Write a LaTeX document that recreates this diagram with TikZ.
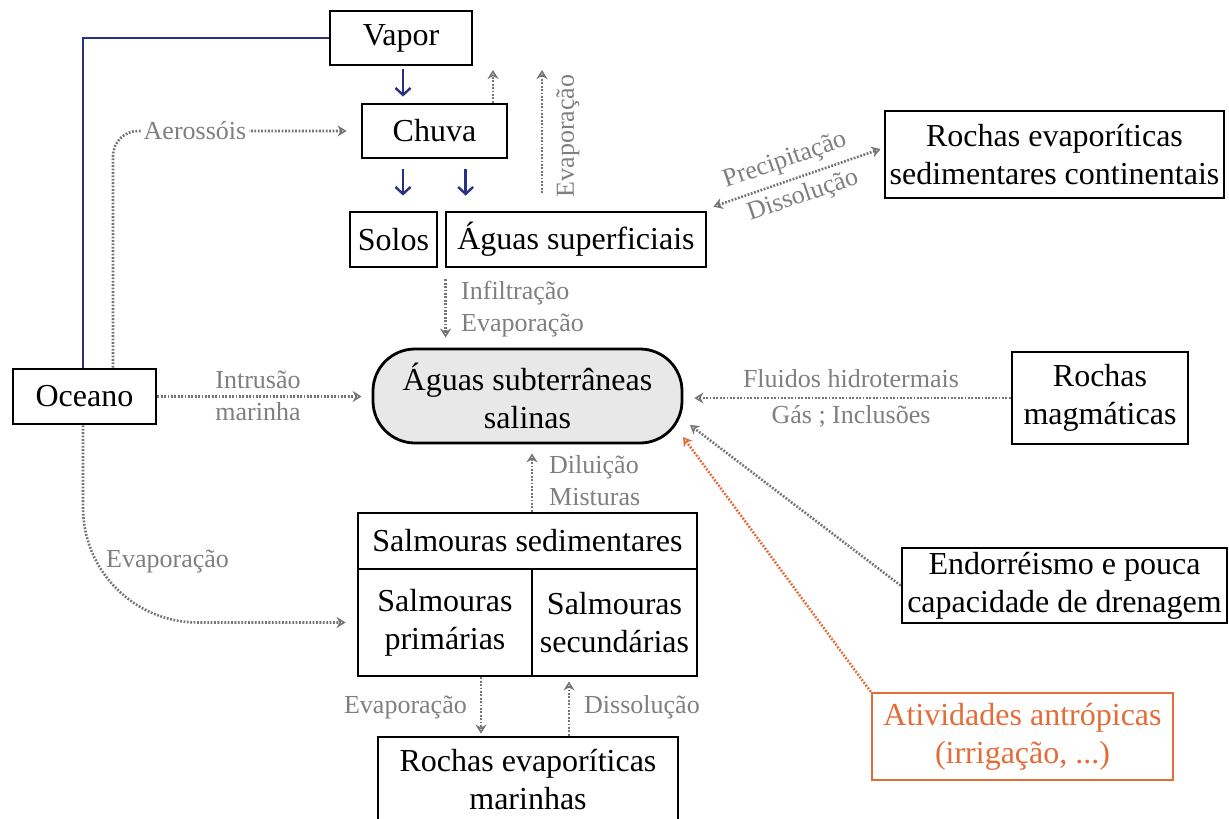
\documentclass[tikz,border=0pt]{standalone}
\usepackage{fontspec}
\setmainfont{Liberation Serif}
\usetikzlibrary{arrows.meta}
\definecolor{navy}{HTML}{2B3087}
\definecolor{lblc}{HTML}{7F7F7F}
\definecolor{dotc}{HTML}{747474}
\definecolor{orng}{HTML}{E26D38}
\definecolor{fillg}{HTML}{E8E8E8}
\newcommand\mainfnt{\fontsize{32}{38}\selectfont}
\newcommand\lblfnt{\fontsize{26}{32}\selectfont}
\begin{document}
\begin{tikzpicture}[x=1pt,y=-1pt,
  box/.style={draw=black, line width=2.8pt, inner sep=0pt, align=center, font=\mainfnt},
  lbl/.style={font=\lblfnt, text=lblc, inner sep=0pt, align=center},
  bline/.style={draw=navy, line width=2.8pt},
  barrow/.style={draw=navy, line width=2.4pt, -{Straight Barb[length=7pt, width=15pt, line width=2.4pt]}},
  dline/.style={draw=dotc, line width=2.6pt, dash pattern=on 1.8pt off 1.6pt},
  dtip/.style={-{Stealth[open, length=9pt, width=11pt, line width=1.5pt]}},
  darrow/.style={dline, dtip},
  oarrow/.style={draw=orng, line width=2.6pt, dash pattern=on 1.8pt off 1.6pt, -{Stealth[open, length=9pt, width=11pt, line width=1.5pt]}}
]
\useasboundingbox (0,0) rectangle (1229,819);

% nodes
\node[box, minimum width=142pt, minimum height=54pt] (vapor) at (401,38) {Vapor};
\node[box, minimum width=145pt, minimum height=54pt] (chuva) at (434.5,131) {Chuva};
\node[box, minimum width=87pt, minimum height=55pt] (solos) at (393.5,239.5) {Solos};
\node[box, minimum width=260pt, minimum height=55pt] (aguas) at (576,239.5) {Águas superficiais};
\node[box, minimum width=339pt, minimum height=87pt] (rcont) at (1054.5,154.5) {Rochas evaporíticas\\sedimentares continentais};
\node[box, minimum width=143pt, minimum height=55pt] (oceano) at (84.5,396.5) {Oceano};
\node[box, fill=fillg, rounded corners=42pt, minimum width=309pt, minimum height=94pt] (sub) at (527.5,396) {Águas subterrâneas\\salinas};
\node[box, minimum width=176pt, minimum height=92pt] (magm) at (1100,398) {Rochas\\magmáticas};
\node[box, minimum width=325pt, minimum height=75pt] (endo) at (1064.5,585.5) {Endorréismo e pouca\\capacidade de drenagem};
\node[box, minimum width=339pt, minimum height=56pt] (salm) at (527.5,541) {Salmouras sedimentares};
\node[box, minimum width=174pt, minimum height=107pt] (prim) at (445,622.5) {Salmouras\\primárias};
\node[box, minimum width=165pt, minimum height=107pt] (sec) at (614.5,622.5) {Salmouras\\secundárias};
\node[box, minimum width=300pt, minimum height=86pt] (rmar) at (528,780) {Rochas evaporíticas\\marinhas};
\node[box, draw=orng, text=orng, line width=2.4pt, minimum width=301pt, minimum height=87pt] (ativ) at (1022.5,736.5) {Atividades antrópicas\\(irrigação, ...)};

% free-end coordinates
\coordinate (c1top) at (493,70);
\coordinate (evtop) at (542,70);
\coordinate (evbot) at (542,193);
\coordinate (endotip) at (690,425);
\coordinate (ativtip) at (683,437);

% blue connectors
\draw[bline] ([xshift=-1.5pt]oceano.north) |- (vapor.west);
\draw[barrow, shorten <=3pt, shorten >=6pt] ([xshift=2pt]vapor.south) -- ([xshift=2pt]vapor.south |- chuva.north);
\draw[barrow, shorten <=10pt, shorten >=15pt] ([xshift=9.5pt]solos.north |- chuva.south) -- ([xshift=9.5pt]solos.north);
\draw[barrow, shorten <=10pt, shorten >=15pt] ([xshift=21pt]aguas.north west |- chuva.south) -- ([xshift=21pt]aguas.north west);

% dotted connectors
\draw[darrow] (chuva.north -| c1top) -- (c1top);
\draw[darrow] (evbot) -- (evtop);
\node[lbl, rotate=90] (levap1) at (568,136) {Evaporação};

\draw[darrow, rounded corners=25pt, shorten >=14pt] ([xshift=28.5pt]oceano.north) |- (chuva.west);
\node[lbl, fill=white, inner xsep=3pt, inner ysep=2pt] (laer) at (195,131) {Aerossóis};

\draw[darrow, shorten <=11pt, shorten >=10pt] ([xshift=1pt]aguas.south west) -- ([xshift=1pt]aguas.south west |- sub.north);
\node[lbl, anchor=west, align=left] (linf) at (461,309) {Infiltração\\Evaporação};

\draw[darrow, shorten >=10pt] (oceano.east) -- (oceano.east -| sub.west);
\node[lbl] (lintr) at (258,396) {Intrusão\\marinha};

\draw[darrow, rounded corners=115pt, shorten >=11pt] ([xshift=-1.5pt]oceano.south) |- (prim.west);
\node[lbl, anchor=west] (levap2) at (106,562) {Evaporação};

\draw[darrow, shorten >=9pt] ([xshift=4.5pt]salm.north) -- ([xshift=4.5pt]salm.north |- sub.south);
\node[lbl, anchor=west, align=left] (ldil) at (549,481) {Diluição\\Misturas};

\draw[darrow, shorten >=2pt] ([xshift=36pt]prim.south) -- ([xshift=36pt]prim.south |- rmar.north);
\draw[darrow, shorten >=4pt] ([xshift=-45.5pt]sec.south |- rmar.north) -- ([xshift=-45.5pt]sec.south);
\node[lbl, anchor=east] (levap3) at (467,707) {Evaporação};
\node[lbl, anchor=west] (ldiss) at (584,707) {Dissolução};

\draw[darrow, shorten >=11pt] (magm.west) -- (magm.west -| sub.east);
\node[lbl, font=\fontsize{26}{36}\selectfont] (lflu) at (851,398) {Fluidos hidrotermais\\Gás ; Inclusões};

\draw[darrow] (endo.west) -- (endotip);
\draw[oarrow] (ativ.north west) -- (ativtip);

\draw[dline, {Stealth[open, length=9pt, width=11pt, line width=1.5pt]}-{Stealth[open, length=9pt, width=11pt, line width=1.5pt]}]
  ([shift={(6,-4)}]aguas.north east) -- ([shift={(-3,-5.5)}]rcont.west);
\node[lbl, rotate=19] (lprec) at (785,161) {Precipitação};
\node[lbl, rotate=19] (ldiss2) at (803,196) {Dissolução};
\end{tikzpicture}
\end{document}
